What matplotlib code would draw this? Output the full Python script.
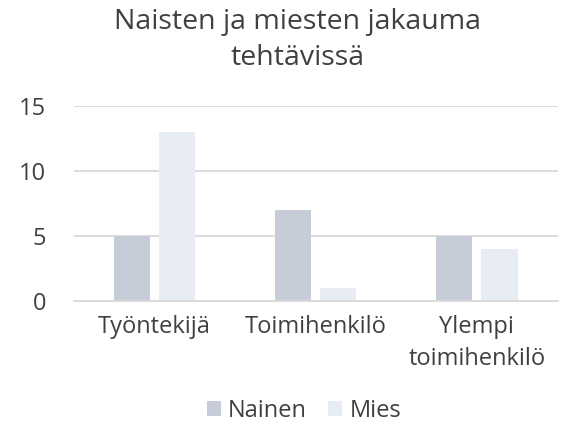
import matplotlib
matplotlib.use("Agg")
import matplotlib.pyplot as plt
import numpy as np

categories = ["Työntekijä", "Toimihenkilö", "Ylempi\ntoimihenkilö"]
series_names = ["Nainen", "Mies"]
nainen = [5, 7, 5]
mies = [13, 1, 4]
yticks = [0, 5, 10, 15]
colors = ["#C7CDD8", "#E8ECF5"]
title = "Naisten ja miesten jakauma\ntehtävissä"

plt.rcParams['font.family'] = ['Open Sans', 'DejaVu Sans']
text_color = "#404040"

fig = plt.figure(figsize=(5.69, 4.26), dpi=100)
ax = fig.add_axes([74/569, 1-301/426, (557.5-74)/569, (301-106)/426])

x = np.arange(len(categories))
w = 0.224
off = 0.14
ax.bar(x - off, nainen, w, color=colors[0], label=series_names[0], zorder=3)
ax.bar(x + off, mies, w, color=colors[1], label=series_names[1], zorder=3)

ax.set_xlim(-0.5, len(categories) - 0.5)
ax.set_ylim(0, 15)
ax.set_yticks(yticks)
ax.set_xticks(x)
ax.set_xticklabels(categories, fontsize=17, color=text_color, linespacing=1.45)
ax.tick_params(axis='y', labelsize=17, labelcolor=text_color, length=0, pad=20)
ax.tick_params(axis='x', length=0, pad=10)
for lab in ax.get_yticklabels():
    lab.set_horizontalalignment('right')
ax.grid(axis='y', color="#D9D9D9", linewidth=1.3, zorder=0)
for s in ["top", "right", "left"]:
    ax.spines[s].set_visible(False)
ax.spines["bottom"].set_color("#D9D9D9")
ax.spines["bottom"].set_linewidth(1.3)
ax.spines["bottom"].set_zorder(4)

fig.text(298/569, 1-40/426, title, ha='center', va='center', fontsize=20.5,
         color=text_color, linespacing=1.4)

leg = fig.legend(loc='center', bbox_to_anchor=(304/569, 1-411/426), ncol=2,
                 frameon=False, fontsize=17, handlelength=0.6, handleheight=0.6,
                 handletextpad=0.3, columnspacing=0.9)
for t in leg.get_texts():
    t.set_color(text_color)

fig.savefig("out.png", dpi=100)
